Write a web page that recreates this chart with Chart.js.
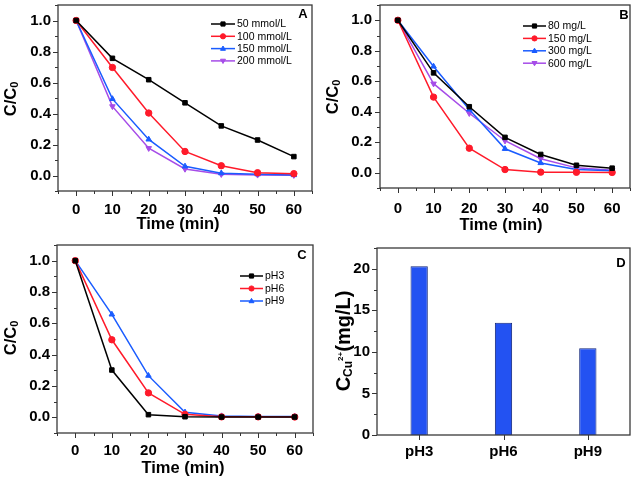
<!DOCTYPE html>
<html><head><meta charset="utf-8">
<script src="https://cdn.jsdelivr.net/npm/chart.js@4/dist/chart.umd.min.js"></script>
<style>
html,body{margin:0;padding:0;background:#fff;}
#wrap{position:relative;width:635px;height:479px;overflow:hidden;}
canvas{position:absolute;}
</style></head><body>
<div id="wrap">
<canvas id="cA" width="318" height="240" style="left:0;top:0"></canvas>
<canvas id="cB" width="317" height="240" style="left:318px;top:0"></canvas>
<canvas id="cC" width="318" height="239" style="left:0;top:240px"></canvas>
<canvas id="cD" width="317" height="239" style="left:318px;top:240px"></canvas>
</div>
<script>
// ---- data ----
const times = [0, 10, 20, 30, 40, 50, 60];
const timeTicks = [0, 10, 20, 30, 40, 50, 60];
const ratioTicks = [0.0, 0.2, 0.4, 0.6, 0.8, 1.0];

const labelsA = ['50 mmol/L', '100 mmol/L', '150 mmol/L', '200 mmol/L'];
const a50  = [1.0, 0.756, 0.618, 0.469, 0.320, 0.229, 0.122];
const a100 = [1.0, 0.697, 0.403, 0.155, 0.063, 0.018, 0.012];
const a150 = [1.0, 0.494, 0.233, 0.059, 0.015, 0.008, 0.003];
const a200 = [1.0, 0.446, 0.176, 0.042, 0.008, 0.004, 0.002];

const labelsB = ['80 mg/L', '150 mg/L', '300 mg/L', '600 mg/L'];
const b80  = [1.0, 0.655, 0.433, 0.232, 0.120, 0.049, 0.030];
const b150 = [1.0, 0.496, 0.161, 0.021, 0.004, 0.003, 0.002];
const b300 = [1.0, 0.697, 0.415, 0.157, 0.064, 0.021, 0.013];
const b600 = [1.0, 0.584, 0.390, 0.210, 0.092, 0.032, 0.017];

const labelsC = ['pH3', 'pH6', 'pH9'];
const cPH3 = [1.0, 0.302, 0.017, 0.004, 0.002, 0.002, 0.002];
const cPH6 = [1.0, 0.495, 0.156, 0.019, 0.003, 0.003, 0.002];
const cPH9 = [1.0, 0.657, 0.266, 0.032, 0.008, 0.006, 0.005];

const catsD = ['pH3', 'pH6', 'pH9'];
const valsD = [20.3, 13.5, 10.45];
const concTicks = [0, 5, 10, 15, 20];

// ---- styles ----
const FONT = "'Liberation Sans', Arial, sans-serif";
const COLORS = ['#000000', '#ff1a2a', '#1a5cff', '#a64ce8'];
const MARKERS = [
  {style: 'rect', rot: 0}, {style: 'circle', rot: 0},
  {style: 'triangle', rot: 0}, {style: 'triangle', rot: 180}
];

function pts(ys) { return times.map((t, i) => ({x: t, y: ys[i]})); }
function minorOf(ticks, lo, hi) {
  const step = ticks[1] - ticks[0], out = [];
  for (let v = ticks[0] - step / 2; v <= hi + 1e-9; v += step) if (v >= lo - 1e-9) out.push(v);
  return out;
}
function noPad(s) { s.paddingTop = 0; s.paddingBottom = 0; s.paddingLeft = 0; s.paddingRight = 0; }

function drawMarker(ctx, m, x, y, r, color) {
  ctx.save();
  ctx.fillStyle = color; ctx.strokeStyle = color; ctx.lineWidth = 1;
  ctx.translate(x, y); ctx.rotate(m.rot * Math.PI / 180);
  ctx.beginPath();
  if (m.style === 'rect') { ctx.rect(-r * 0.8, -r * 0.8, r * 1.6, r * 1.6); }
  else if (m.style === 'circle') { ctx.arc(0, 0, r, 0, Math.PI * 2); }
  else { ctx.moveTo(0, -r); ctx.lineTo(r * 0.95, r * 0.65); ctx.lineTo(-r * 0.95, r * 0.65); ctx.closePath(); }
  ctx.fill(); ctx.stroke();
  ctx.restore();
}

function drawRich(ctx, parts, cx, cy, rotate) {
  ctx.save();
  ctx.translate(cx, cy);
  if (rotate) ctx.rotate(-Math.PI / 2);
  let total = 0;
  for (const p of parts) { ctx.font = 'bold ' + p.size + 'px ' + FONT; total += ctx.measureText(p.t).width; }
  let x = -total / 2;
  ctx.textBaseline = 'middle'; ctx.textAlign = 'left'; ctx.fillStyle = '#000';
  for (const p of parts) {
    ctx.font = 'bold ' + p.size + 'px ' + FONT;
    ctx.fillText(p.t, x, p.dy || 0);
    x += ctx.measureText(p.t).width;
  }
  ctx.restore();
}

const deco = {
  id: 'deco',
  afterDraw(chart, args, o) {
    const ctx = chart.ctx, a = chart.chartArea;
    const xs = chart.scales.x, ys = chart.scales.y;
    ctx.save();
    ctx.strokeStyle = '#333'; ctx.lineWidth = 1;
    ctx.beginPath();
    for (const v of o.xMajor) { const p = Math.round(xs.getPixelForValue(v)) + 0.5; ctx.moveTo(p, a.bottom); ctx.lineTo(p, a.bottom + 5); }
    for (const v of o.xMinor) { const p = Math.round(xs.getPixelForValue(v)) + 0.5; ctx.moveTo(p, a.bottom); ctx.lineTo(p, a.bottom + 3); }
    for (const v of o.yMajor) { const p = Math.round(ys.getPixelForValue(v)) + 0.5; ctx.moveTo(a.left, p); ctx.lineTo(a.left - 5, p); }
    for (const v of o.yMinor) { const p = Math.round(ys.getPixelForValue(v)) + 0.5; ctx.moveTo(a.left, p); ctx.lineTo(a.left - 3, p); }
    ctx.stroke();
    ctx.strokeStyle = '#3a3a3a'; ctx.lineWidth = 1.3;
    ctx.strokeRect(a.left, a.top, a.right - a.left, a.bottom - a.top);
    if (o.xTitle) drawRich(ctx, o.xTitle.parts, o.xTitle.x, o.xTitle.y, false);
    drawRich(ctx, o.yTitle.parts, o.yTitle.x, o.yTitle.y, true);
    ctx.font = 'bold 13px ' + FONT; ctx.fillStyle = '#000';
    ctx.textAlign = 'center'; ctx.textBaseline = 'middle';
    ctx.fillText(o.letter.t, o.letter.x, o.letter.y);
    if (o.legend) {
      const L = o.legend;
      chart.data.datasets.forEach((ds, i) => {
        const y = L.y + i * L.step;
        ctx.strokeStyle = ds.borderColor; ctx.lineWidth = 1.5;
        ctx.beginPath(); ctx.moveTo(L.x0, y); ctx.lineTo(L.x1, y); ctx.stroke();
        drawMarker(ctx, MARKERS[i], (L.x0 + L.x1) / 2, y, 2.6, ds.borderColor);
        ctx.font = '10.5px ' + FONT; ctx.fillStyle = '#000';
        ctx.textAlign = 'left'; ctx.textBaseline = 'middle';
        ctx.fillText(ds.label, L.x1 + 2, y + 0.5);
      });
    }
    ctx.restore();
  }
};

function lineChart(id, labels, series, geo) {
  const canvas = document.getElementById(id);
  const W = canvas.width, H = canvas.height;
  const datasets = series.map((s, i) => ({
    label: labels[i], data: pts(s),
    borderColor: COLORS[i], backgroundColor: COLORS[i],
    borderWidth: 1.5, pointRadius: 3.2, pointBorderWidth: 1,
    pointStyle: MARKERS[i].style, pointRotation: MARKERS[i].rot,
    tension: 0, clip: false
  }));
  const tickFont = {family: FONT, size: 15, weight: 'bold'};
  new Chart(canvas, {
    type: 'line',
    data: {datasets},
    plugins: [deco],
    options: {
      responsive: false, animation: false, devicePixelRatio: 1,
      layout: {padding: {left: 0, right: W - geo.right, top: geo.top, bottom: 0}},
      plugins: {
        legend: {display: false}, tooltip: {enabled: false},
        deco: {
          xMajor: timeTicks, xMinor: minorOf(timeTicks, -5, 65),
          yMajor: ratioTicks, yMinor: minorOf(ratioTicks, -0.1, 1.1),
          xTitle: {parts: [{t: 'Time (min)', size: 16.5}], x: geo.xtx, y: geo.xty},
          yTitle: {parts: [{t: 'C/C', size: 16.5}, {t: '0', size: 11, dy: 4}], x: geo.ytx, y: geo.yty},
          letter: geo.letter, legend: geo.legend
        }
      },
      scales: {
        x: {
          type: 'linear', min: -5, max: 65,
          grid: {display: false, drawTicks: false}, border: {display: false},
          afterBuildTicks: s => { s.ticks = timeTicks.map(v => ({value: v})); },
          afterFit: s => { s.height = H - geo.bottom; noPad(s); },
          ticks: {font: tickFont, color: '#000', padding: geo.xpad, maxRotation: 0, autoSkip: false}
        },
        y: {
          type: 'linear', min: -0.1, max: 1.1,
          grid: {display: false, drawTicks: false}, border: {display: false},
          afterBuildTicks: s => { s.ticks = ratioTicks.map(v => ({value: v})); },
          afterFit: s => { s.width = geo.left; noPad(s); },
          ticks: {font: tickFont, color: '#000', padding: geo.ypad, callback: v => Number(v).toFixed(1)}
        }
      }
    }
  });
}

lineChart('cA', labelsA, [a50, a100, a150, a200], {
  left: 58, right: 312, top: 3, bottom: 191, xpad: 10, ypad: 7,
  xtx: 178, xty: 224, ytx: 11, yty: 99,
  letter: {t: 'A', x: 303, y: 14},
  legend: {x0: 211, x1: 235, y: 24, step: 12.3}
});
lineChart('cB', labelsB, [b80, b150, b300, b600], {
  left: 62, right: 315, top: 2, bottom: 188, xpad: 12, ypad: 8,
  xtx: 183, xty: 225, ytx: 15, yty: 97,
  letter: {t: 'B', x: 306, y: 15},
  legend: {x0: 205, x1: 228, y: 26, step: 12.4}
});
lineChart('cC', labelsC, [cPH3, cPH6, cPH9], {
  left: 57, right: 313, top: 3.5, bottom: 193, xpad: 9, ypad: 7,
  xtx: 183, xty: 228, ytx: 11, yty: 98,
  letter: {t: 'C', x: 302, y: 15},
  legend: {x0: 240, x1: 263, y: 36, step: 12.5}
});

// ---- bar chart D ----
(function () {
  const canvas = document.getElementById('cD');
  const W = canvas.width, H = canvas.height;
  const geo = {left: 59, right: 312, top: 8, bottom: 195};
  const tickFont = {family: FONT, size: 15, weight: 'bold'};
  new Chart(canvas, {
    type: 'bar',
    data: {labels: catsD, datasets: [{
      data: valsD, backgroundColor: '#2352f2', borderColor: '#10257a', borderWidth: 1,
      barPercentage: 0.205, categoryPercentage: 1.0
    }]},
    plugins: [deco],
    options: {
      responsive: false, animation: false, devicePixelRatio: 1,
      layout: {padding: {left: 0, right: W - geo.right, top: geo.top, bottom: 0}},
      plugins: {
        legend: {display: false}, tooltip: {enabled: false},
        deco: {
          xMajor: [0, 1, 2], xMinor: [],
          yMajor: concTicks, yMinor: minorOf(concTicks, 0, 22.5),
          xTitle: null,
          yTitle: {parts: [{t: 'C', size: 20}, {t: 'Cu', size: 12, dy: 5}, {t: '2+', size: 8, dy: -3}, {t: '(mg/L)', size: 20}], x: 26, y: 101},
          letter: {t: 'D', x: 303, y: 23}
        }
      },
      scales: {
        x: {
          grid: {display: false, drawTicks: false}, border: {display: false},
          afterFit: s => { s.height = H - geo.bottom; noPad(s); },
          ticks: {font: tickFont, color: '#000', padding: 8}
        },
        y: {
          min: 0, max: 22.5,
          grid: {display: false, drawTicks: false}, border: {display: false},
          afterBuildTicks: s => { s.ticks = concTicks.map(v => ({value: v})); },
          afterFit: s => { s.width = geo.left; noPad(s); },
          ticks: {font: tickFont, color: '#000', padding: 7}
        }
      }
    }
  });
})();
</script>
</body></html>
